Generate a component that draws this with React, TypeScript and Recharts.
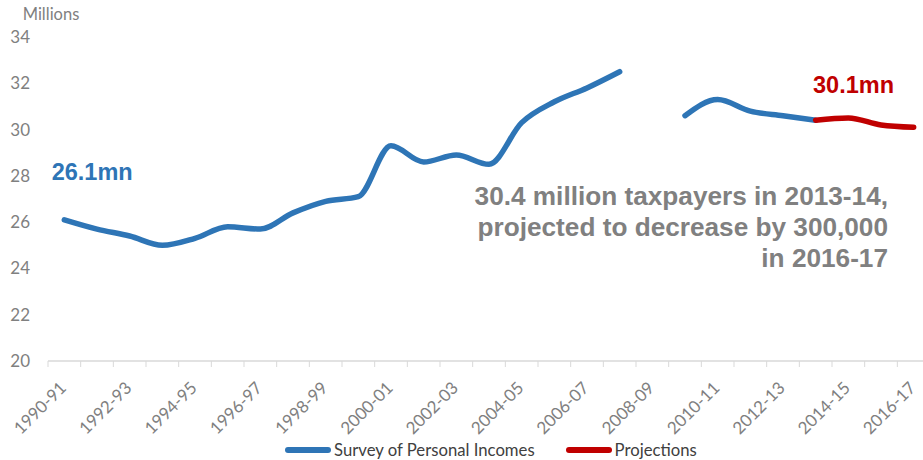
import React from 'react';
import { LineChart, Line, XAxis, YAxis, Legend } from 'recharts';

const categories = [
  '1990-91', '1991-92', '1992-93', '1993-94', '1994-95', '1995-96', '1996-97', '1997-98', '1998-99',
  '1999-00', '2000-01', '2001-02', '2002-03', '2003-04', '2004-05', '2005-06', '2006-07', '2007-08',
  '2008-09', '2009-10', '2010-11', '2011-12', '2012-13', '2013-14', '2014-15', '2015-16', '2016-17',
];

const surveyValues: (number | null)[] = [
  26.1, 25.7, 25.4, 25.0, 25.3, 25.8, 25.7, 26.4, 26.9, 27.1, 29.3, 28.6, 28.9, 28.5, 30.3, 31.2, 31.8, 32.5,
  null, 30.6, 31.3, 30.8, 30.6, 30.4, null, null, null,
];

const projectionValues: (number | null)[] = [
  null, null, null, null, null, null, null, null, null, null, null, null, null, null, null, null, null, null,
  null, null, null, null, null, 30.4, 30.5, 30.2, 30.1,
];

const yTicks = [20, 22, 24, 26, 28, 30, 32, 34];

const seriesNames = ['Survey of Personal Incomes', 'Projections'];
const seriesColors = ['#2E75B6', '#C00000'];

const data = categories.map((c, i) => ({
  idx: i,
  name: c,
  spi: surveyValues[i],
  proj: projectionValues[i],
}));

const xTickValues: number[] = [];
for (let k = 0; k <= categories.length * 2; k++) xTickValues.push(-0.5 + k * 0.5);

const AXIS_FONT = 'Lato, "Open Sans", sans-serif';
const ANN_FONT = '"Liberation Sans", Arial, sans-serif';

const XTick = (props: any) => {
  const { x, y, payload } = props;
  const v = payload.value as number;
  if (!Number.isInteger(v)) {
    return <line x1={x} x2={x} y1={361} y2={367} stroke="#d9d9d9" strokeWidth={1} />;
  }
  if (v % 2 !== 0) return <g />;
  const tx = x + 3;
  const ty = 389;
  return (
    <text
      x={tx}
      y={ty}
      transform={`rotate(-45 ${tx} ${ty})`}
      textAnchor="end"
      fill="#808080"
      fontSize={17}
      fontFamily={AXIS_FONT}
    >
      {categories[v]}
    </text>
  );
};

const LegendContent = () => (
  <div
    style={{
      display: 'flex',
      alignItems: 'center',
      paddingLeft: 285,
      height: 20,
      fontFamily: AXIS_FONT,
      fontSize: 16.7,
      color: '#404040',
    }}
  >
    {seriesNames.map((n, i) => (
      <div key={n} style={{ display: 'flex', alignItems: 'center', marginRight: 31 }}>
        <div
          style={{
            width: 46,
            height: 6,
            borderRadius: 3,
            background: seriesColors[i],
            marginRight: 3,
          }}
        />
        <span>{n}</span>
      </div>
    ))}
  </div>
);

export default function App() {
  return (
    <div style={{ position: 'absolute', left: 0, top: 0, width: 923, height: 460, overflow: 'hidden', background: '#fff' }}>
      <LineChart width={930} height={460} data={data} margin={{ top: 37, right: 0, bottom: 0, left: 0 }}>
        <XAxis
          dataKey="idx"
          type="number"
          domain={[-0.5, 26.5]}
          ticks={xTickValues}
          interval={0}
          height={79}
          tickSize={0}
          tickMargin={0}
          tickLine={false}
          axisLine={{ stroke: '#d9d9d9', strokeWidth: 1.5 }}
          tick={<XTick />}
        />
        <YAxis
          domain={[20, 34]}
          ticks={yTicks}
          width={48}
          axisLine={false}
          tickLine={false}
          tickSize={0}
          tickMargin={18}
          tick={{ fill: '#808080', fontSize: 17, fontFamily: AXIS_FONT }}
        />
        <Legend verticalAlign="bottom" height={20} wrapperStyle={{ left: 0, width: 930 }} content={<LegendContent />} />
        <Line
          dataKey="spi"
          name={seriesNames[0]}
          stroke={seriesColors[0]}
          strokeWidth={5.5}
          strokeLinecap="round"
          strokeLinejoin="round"
          type="monotone"
          dot={false}
          connectNulls={false}
          isAnimationActive={false}
        />
        <Line
          dataKey="proj"
          name={seriesNames[1]}
          stroke={seriesColors[1]}
          strokeWidth={5.5}
          strokeLinecap="round"
          strokeLinejoin="round"
          type="monotone"
          dot={false}
          connectNulls={false}
          isAnimationActive={false}
        />
      </LineChart>
      <svg width={923} height={460} style={{ position: 'absolute', left: 0, top: 0, pointerEvents: 'none' }}>
        <text x={22.7} y={20} fill="#808080" fontSize={16.5} fontFamily={AXIS_FONT}>Millions</text>
        <text x={51.7} y={180.3} fill="#2E75B6" fontSize={23.5} fontWeight="bold" fontFamily={ANN_FONT}>26.1mn</text>
        <text x={813} y={92.7} fill="#C00000" fontSize={23.5} fontWeight="bold" fontFamily={ANN_FONT}>30.1mn</text>
        <text x={888} y={205} textAnchor="end" fill="#808080" fontSize={26.2} fontWeight="bold" fontFamily={ANN_FONT}>30.4 million taxpayers in 2013-14,</text>
        <text x={888} y={235.5} textAnchor="end" fill="#808080" fontSize={26.2} fontWeight="bold" fontFamily={ANN_FONT}>projected to decrease by 300,000</text>
        <text x={888} y={266.5} textAnchor="end" fill="#808080" fontSize={26.2} fontWeight="bold" fontFamily={ANN_FONT}>in 2016-17</text>
      </svg>
    </div>
  );
}
